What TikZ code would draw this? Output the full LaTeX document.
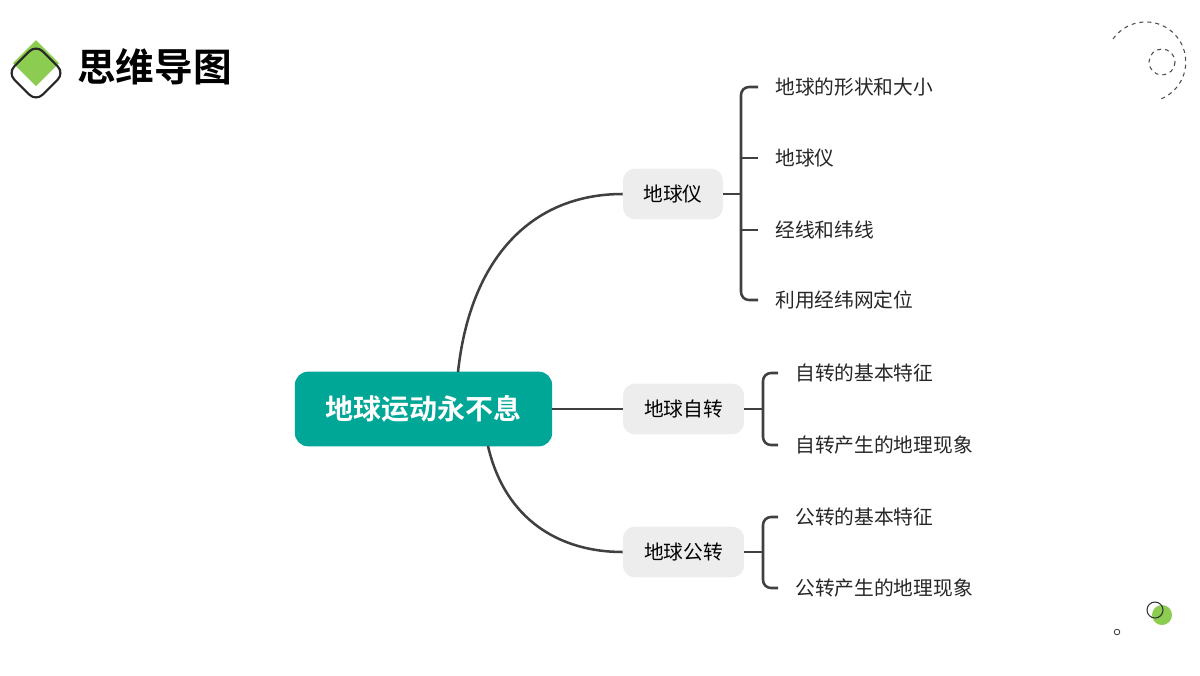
\documentclass[tikz,border=0pt]{standalone}
\usepackage{fontspec}
\setmainfont{Noto Sans CJK SC}
\newfontfamily\cjkb{Noto Sans CJK SC Bold}
\definecolor{lgreen}{RGB}{140,204,80}
\definecolor{tealc}{RGB}{0,166,150}
\begin{document}
\begin{tikzpicture}[x=0.75pt,y=-0.75pt,
 ln/.style={draw=black!75,line width=1.9pt},
 br/.style={fill=black!7,rounded corners=9pt,minimum height=38pt,inner sep=0pt,font=\fontsize{14.8}{17}\selectfont},
 leaf/.style={anchor=west,inner sep=0pt,font=\fontsize{14.8}{17}\selectfont,text=black!85},
 dsh/.style={draw=black!70,dashed,line width=0.8pt}]
\useasboundingbox (0,0) rectangle (1200,675);
% logo
\fill[lgreen] (36,40)--(59,63)--(36,86)--(13,63)--cycle;
\node[draw=black!85,line width=1.6pt,rounded corners=7pt,minimum size=30pt,rotate=45,inner sep=0pt] (lg) at (36,73) {};
\node[anchor=west,inner sep=0pt,font=\cjkb\fontsize{29}{32}\selectfont] (title) at (77,67) {思维导图};
% decorations
\draw[dsh] (1113,39) arc[start angle=-145,end angle=70,radius=40];
\draw[dsh] (1162,62) circle[radius=13];
\fill[lgreen] (1162,615) circle[radius=10];
\draw[black!80,line width=0.8pt] (1155,610) circle[radius=8];
\draw[black!80,line width=0.6pt] (1117,632) circle[radius=2.8];
% nodes
\node[fill=tealc,rounded corners=10pt,minimum width=193pt,minimum height=56pt,text=white,font=\cjkb\fontsize{21}{24}\selectfont] (c) at (423.5,409) {地球运动永不息};
\node[br,minimum width=75pt] (b1) at (673,194) {地球仪};
\node[br,minimum width=91pt] (b2) at (683.5,409) {地球自转};
\node[br,minimum width=91pt] (b3) at (683.5,552) {地球公转};
\coordinate (ct) at (458,372);
\coordinate (cb) at (488,446);
\draw[ln] (ct) .. controls (470,260) and (530,194) .. (b1.west);
\draw[ln] (c.east) -- (b2.west);
\draw[ln] (cb) .. controls (505,520) and (560,552) .. (b3.west);
% leaves
\node[leaf] (l1) at (775,87) {地球的形状和大小};
\node[leaf] (l2) at (775,158) {地球仪};
\node[leaf] (l3) at (775,230) {经线和纬线};
\node[leaf] (l4) at (775,300) {利用经纬网定位};
\node[leaf] (m1) at (795,373) {自转的基本特征};
\node[leaf] (m2) at (795,445) {自转产生的地理现象};
\node[leaf] (n1) at (795,517) {公转的基本特征};
\node[leaf] (n2) at (795,588) {公转产生的地理现象};
% brackets
\draw[ln] (b1.east) -- (741,194);
\draw[ln,rounded corners=6pt] (758,87) -- (741,87) -- (741,300) -- (758,300);
\draw[ln] (741,158) -- (758,158);
\draw[ln] (741,230) -- (758,230);
\draw[ln] (b2.east) -- (763,409);
\draw[ln,rounded corners=6pt] (778,373) -- (763,373) -- (763,445) -- (778,445);
\draw[ln] (b3.east) -- (763,552);
\draw[ln,rounded corners=6pt] (778,517) -- (763,517) -- (763,588) -- (778,588);
\end{tikzpicture}
\end{document}
